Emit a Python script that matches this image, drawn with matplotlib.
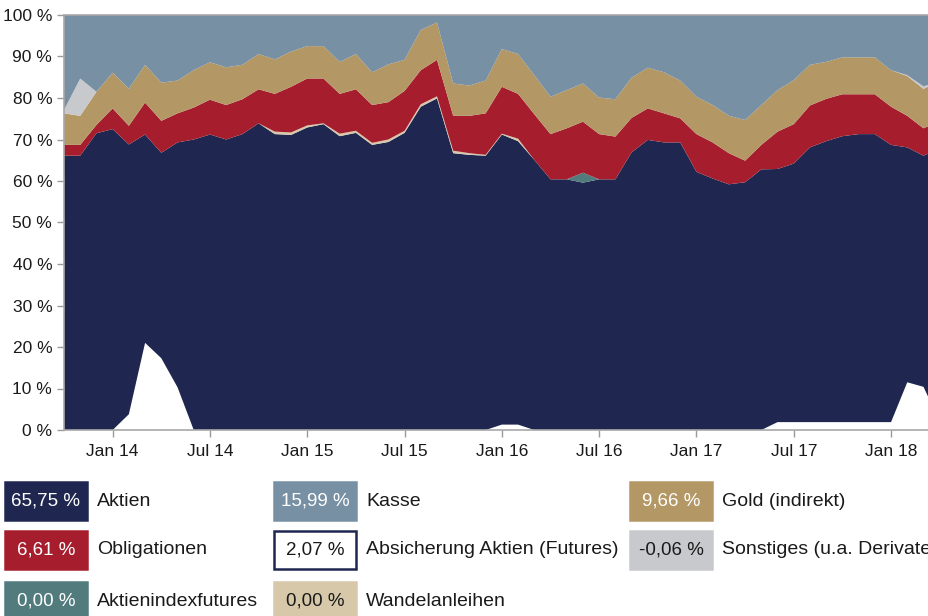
import numpy as np
import matplotlib
matplotlib.use("Agg")
import matplotlib.pyplot as plt
from matplotlib.patches import Rectangle

plt.rcParams['font.family'] = ['Liberation Sans', 'DejaVu Sans']

# monthly allocation in % of fund volume, Oct 13 .. Apr 18
absicherung = [0, 0, 0, 0, 3.8, 21.0, 17.3, 10.3, 0, 0,
               0, 0, 0, 0, 0, 0, 0, 0, 0, 0,
               0, 0, 0, 0, 0, 0, 0, 1.3, 1.3, 0,
               0, 0, 0, 0, 0, 0, 0, 0, 0, 0,
               0, 0, 0, 0, 1.9, 1.9, 1.9, 1.9, 1.9, 1.9,
               1.9, 1.9, 11.5, 10.4, 2.07]
aktien = [66.1, 66.1, 71.5, 72.5, 65.0, 50.2, 49.5, 59.0, 70.0, 71.2,
          70.0, 71.3, 73.9, 71.3, 71.1, 72.9, 73.7, 70.8, 71.6, 68.7,
          69.4, 71.6, 77.9, 79.9, 66.7, 66.3, 66.1, 69.9, 68.3, 65.1,
          60.4, 60.4, 59.6, 60.4, 60.4, 66.9, 69.9, 69.3, 69.3, 62.2,
          60.6, 59.2, 59.7, 62.8, 61.0, 62.3, 66.2, 67.7, 68.9, 69.4,
          69.4, 66.8, 56.6, 55.7, 65.75]
indexfutures = [0] * 32 + [2.4] + [0] * 22
wandelanleihen = [0, 0, 0, 0, 0, 0, 0, 0, 0, 0,
                  0, 0, 0, 0.6, 0.6, 0.5, 0.2, 0.6, 0.5, 0.5,
                  0.6, 0.5, 0.6, 0.5, 0.6, 0.4, 0.2, 0.2, 0.6, 0,
                  0, 0, 0, 0, 0, 0, 0, 0, 0, 0,
                  0, 0, 0, 0, 0, 0, 0, 0, 0, 0,
                  0, 0, 0, 0, 0.00]
obligationen = [2.6, 2.6, 2.0, 5.0, 4.5, 7.7, 7.7, 7.0, 7.7, 8.4,
                8.3, 8.4, 8.2, 9.1, 11.0, 11.3, 10.8, 9.6, 10.0, 9.1,
                9.0, 9.6, 8.2, 8.8, 8.4, 9.0, 10.0, 11.3, 10.8, 11.0,
                10.9, 12.3, 12.3, 10.9, 10.3, 8.3, 7.6, 7.0, 5.8, 9.1,
                8.7, 7.5, 5.2, 5.9, 9.0, 9.5, 10.1, 10.2, 10.1, 9.6,
                9.6, 9.2, 7.6, 6.6, 6.61]
gold = [7.6, 7.0, 8.0, 8.6, 8.9, 9.1, 9.2, 7.9, 9.0, 9.0,
        9.1, 8.3, 8.5, 8.3, 8.5, 7.8, 7.8, 7.7, 8.5, 7.9,
        9.1, 7.5, 9.7, 9.0, 7.8, 7.3, 7.9, 9.1, 9.6, 9.4,
        9.0, 9.2, 9.2, 8.8, 9.0, 9.7, 9.8, 9.9, 9.1, 9.0,
        9.0, 9.0, 9.8, 9.6, 10.0, 10.6, 9.8, 8.9, 8.9, 8.9,
        8.9, 8.8, 9.6, 9.5, 9.66]
sonstiges = [0.8, 9.0] + [0] * 50 + [0.2, 0.6, -0.06]
kasse = [22.9, 15.3, 18.5, 13.9, 17.8, 12.0, 16.3, 15.8, 13.3, 11.4,
         12.6, 12.0, 9.4, 10.7, 8.8, 7.5, 7.5, 11.3, 9.4, 13.8,
         11.9, 10.8, 3.6, 1.8, 16.5, 17.0, 15.8, 8.2, 9.4, 14.5,
         19.7, 18.1, 16.5, 19.9, 20.3, 15.1, 12.7, 13.8, 15.8, 19.7,
         21.7, 24.3, 25.3, 21.7, 18.1, 15.7, 12.0, 11.3, 10.2, 10.2,
         10.2, 13.3, 14.5, 17.2, 15.99]

tick_pos = [3, 9, 15, 21, 27, 33, 39, 45, 51]
tick_labels = ["Jan 14", "Jul 14", "Jan 15", "Jul 15", "Jan 16",
               "Jul 16", "Jan 17", "Jul 17", "Jan 18"]

NAVY = "#1f2750"
RED = "#a61e2d"
GOLD = "#b39765"
KASSE = "#7890a3"
GREY = "#c8c9cc"
TEAL = "#517b7d"
BEIGE = "#d6c8a9"

layers = [absicherung, aktien, indexfutures, wandelanleihen,
          obligationen, gold, sonstiges, kasse]
colors = ["white", NAVY, TEAL, BEIGE, RED, GOLD, GREY, KASSE]

W, H = 929, 616
fig = plt.figure(figsize=(W / 100, H / 100), dpi=100)
ax = fig.add_axes([64 / W, 1 - 430 / H, 865 / W, 415 / H])

x = np.arange(len(aktien))
ax.stackplot(x, *[np.array(l, float) for l in layers], colors=colors,
             linewidth=0)

ax.set_xlim(0, 53.34)
ax.set_ylim(0, 100)
ax.set_yticks(range(0, 101, 10))
ax.set_yticklabels([f"{v} %" for v in range(0, 101, 10)])
ax.set_xticks(tick_pos)
ax.set_xticklabels(tick_labels)
ax.tick_params(axis="both", colors="#9a9a9a", labelcolor="#1a1a1a",
               labelsize=12.5, length=5, width=1)
ax.tick_params(axis="x", pad=5)
for side in ("left", "bottom", "top"):
    ax.spines[side].set_color("#a8a8a8")
    ax.spines[side].set_linewidth(1.2)
ax.spines["right"].set_visible(False)

# legend grid: value box + label
entries = [
    ("Aktien", aktien[-1], NAVY, "white"),
    ("Kasse", kasse[-1], KASSE, "white"),
    ("Gold (indirekt)", gold[-1], GOLD, "white"),
    ("Obligationen", obligationen[-1], RED, "white"),
    ("Absicherung Aktien (Futures)", absicherung[-1], "white", "#1a1a1a"),
    ("Sonstiges (u.a. Derivate)", sonstiges[-1], GREY, "#1a1a1a"),
    ("Aktienindexfutures", indexfutures[-1], TEAL, "white"),
    ("Wandelanleihen", wandelanleihen[-1], BEIGE, "#1a1a1a"),
]
col_x = [5, 274, 630]
row_y = [482, 531, 582]
bw, bh = 82, 38
for k, (label, val, fc, tc) in enumerate(entries):
    bx, by = col_x[k % 3], row_y[k // 3]
    ec = NAVY if fc == "white" else fc
    fig.add_artist(Rectangle((bx / W, 1 - (by + bh) / H), bw / W, bh / H,
                             transform=fig.transFigure, facecolor=fc,
                             edgecolor=ec, linewidth=1.8))
    txt = f"{val:.2f}".replace(".", ",") + " %"
    fig.text((bx + bw / 2) / W, 1 - (by + bh / 2) / H, txt, color=tc,
             fontsize=13.5, ha="center", va="center")
    fig.text((bx + bw + 10) / W, 1 - (by + bh / 2) / H, label,
             color="#1a1a1a", fontsize=14, ha="left", va="center")

fig.savefig("out.png", dpi=100)
